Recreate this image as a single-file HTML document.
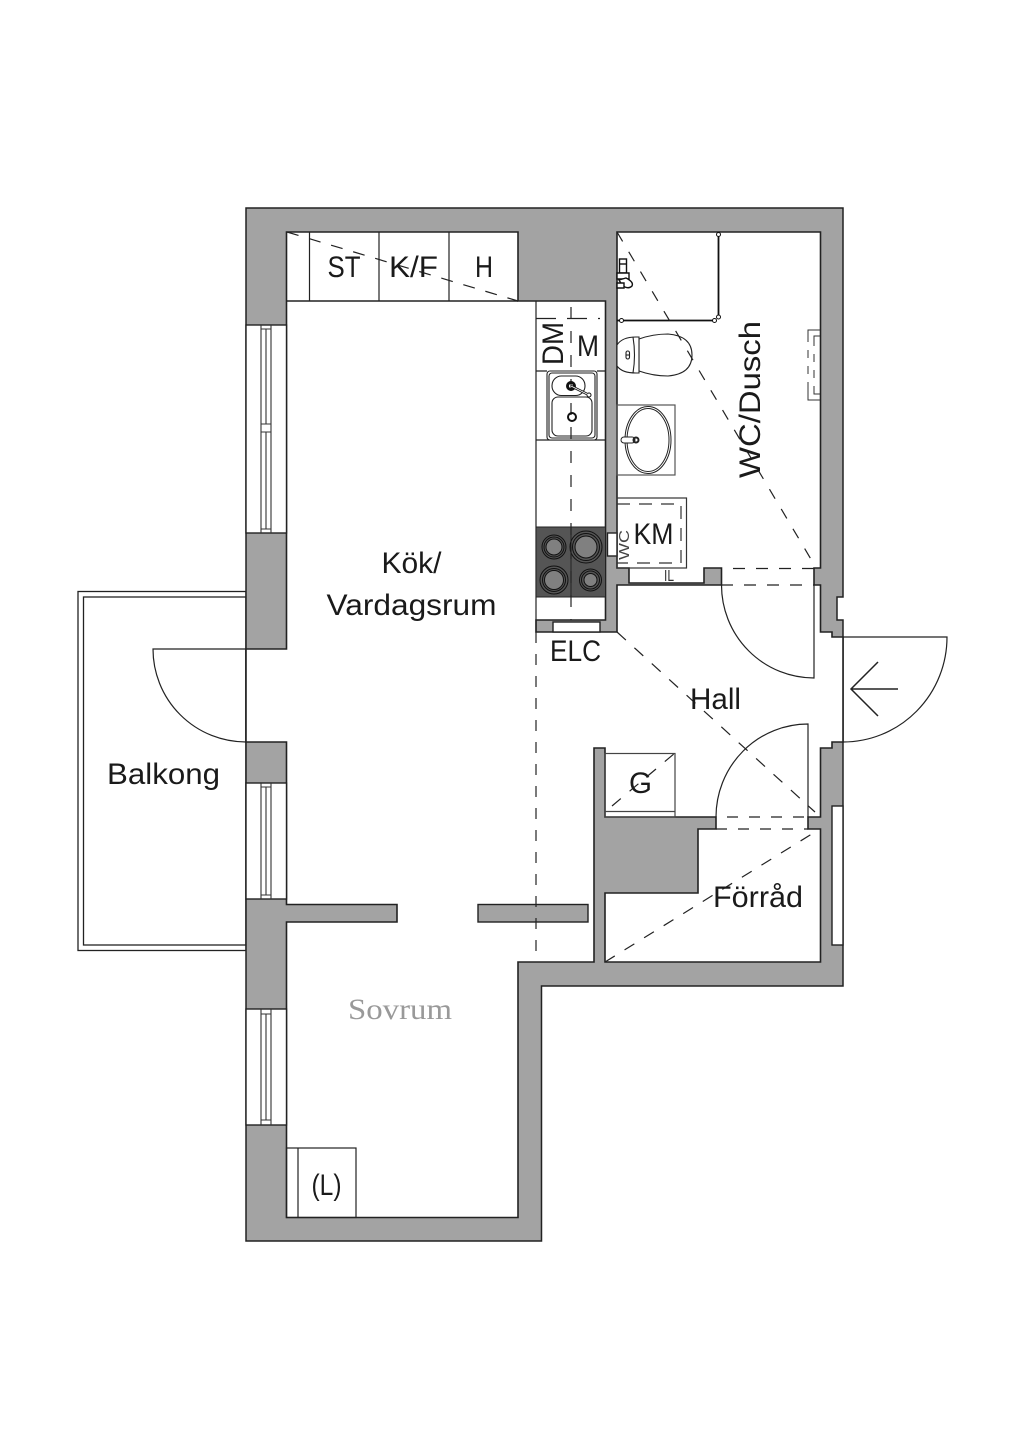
<!DOCTYPE html>
<html><head><meta charset="utf-8"><style>
html,body{margin:0;padding:0;background:#fff}
svg{display:block}
text{font-family:"Liberation Sans",sans-serif;fill:#1a1a1a;stroke:none}
</style></head><body>
<svg xmlns="http://www.w3.org/2000/svg" width="1024" height="1448" viewBox="0 0 1024 1448">
<rect width="1024" height="1448" fill="#fff"/>
<g fill="none" stroke="#222" stroke-width="1.3">
<rect x="78" y="591.5" width="168" height="359"/>
<rect x="83.5" y="597" width="162.5" height="348"/>
</g>
<path d="M246,208H843V597H837V620H843V986H541.5V1241H246Z" fill="#a3a3a3" stroke="#222" stroke-width="1.5"/>
<path d="M286.5,232H518V301H605.5V620H536V632H617V585H721.5V568H704V583H629V568H617V232H820.5V568H814V585H820.5V632H832V637H843V742H832V748H820.5V817H808V829H820.5V962H605V893H698V829H716V817H605V748H594V962H518V1217.5H286.5V922H397V904.5H286.5V742H246V649H286.5Z" fill="#fff" stroke="#222" stroke-width="1.6" stroke-linejoin="miter"/>
<rect x="478" y="904.5" width="110" height="17.5" fill="#a3a3a3" stroke="#222" stroke-width="1.4"/>
<!-- windows -->
<g fill="#fff" stroke="#222" stroke-width="1.4">
<rect x="246" y="325" width="40.5" height="208"/>
<rect x="246" y="783" width="40.5" height="116"/>
<rect x="246" y="1009" width="40.5" height="116"/>
<rect x="832" y="806" width="11" height="139"/>
<rect x="553" y="622" width="47" height="10"/>
<rect x="607.5" y="533" width="9.5" height="23"/>
</g>
<g fill="none" stroke="#333" stroke-width="1.1">
<path d="M261,325V533M271,325V533M266,329V424M266,432V529M261,329H271M261,424H271M261,432H271M261,529H271"/>
<path d="M261,783V899M271,783V899M266,787V895M261,787H271M261,895H271"/>
<path d="M261,1009V1125M271,1009V1125M266,1014V1120M261,1014H271M261,1120H271"/>
</g>
<!-- closets -->
<g fill="none" stroke="#222" stroke-width="1.2">
<path d="M286.5,301H518" stroke-width="1.5"/>
<path d="M309.5,232V301M379,232V301M449,232V301"/>
<path d="M536,301V632M536,371H547M597,371H605M536,440H605"/>
<rect x="286.5" y="1148" width="69.5" height="69.5"/>
<path d="M298,1148V1217"/>
<rect x="605" y="753.5" width="70" height="63.5" stroke="#444"/>
<path d="M605,811.5H675" stroke="#444"/>
<rect x="617" y="498" width="69.5" height="70" stroke="#333"/>
<rect x="617" y="405" width="58" height="70" stroke="#555"/>
</g>
<!-- cooktop -->
<rect x="536" y="527" width="69.5" height="70" fill="#555" stroke="#222"/>
<path d="M571,527V597" stroke="#222" stroke-width="1"/>
<g stroke="#111" stroke-width="1" fill="none">
<circle cx="554" cy="547" r="12"/><circle cx="554" cy="547" r="10"/><circle cx="554" cy="547" r="8" fill="#808080"/>
<circle cx="586" cy="547" r="16"/><circle cx="586" cy="547" r="13.5"/><circle cx="586" cy="547" r="11" fill="#808080"/>
<circle cx="554" cy="580" r="14"/><circle cx="554" cy="580" r="11.5"/><circle cx="554" cy="580" r="9.5" fill="#808080"/>
<circle cx="590.5" cy="580" r="11"/><circle cx="590.5" cy="580" r="9"/><circle cx="590.5" cy="580" r="6.5" fill="#808080"/>
</g>
<!-- kitchen sink -->
<g fill="#fff" stroke="#222" stroke-width="1.1">
<rect x="547" y="371" width="50" height="69" rx="3"/>
<rect x="549" y="373" width="46" height="65" rx="3"/>
<rect x="552" y="376" width="33" height="19.5" rx="9.5"/>
<rect x="552" y="397" width="40" height="39" rx="6"/>
</g>
<!-- radiator -->
<g fill="none" stroke="#333" stroke-width="1">
<path d="M820,330H808V342M808,350V358M808,366V374M808,382V400H820"/>
<path d="M820,336H814V346M814,354V362M814,370V378M814,386V394H820"/>
</g>
<!-- shower -->
<g fill="none" stroke="#111" stroke-width="1.8">
<path d="M718.5,232V318M617,320.5H716"/>
<circle cx="718.5" cy="234.5" r="2" fill="#fff" stroke-width="1"/>
<circle cx="718.5" cy="317" r="2" fill="#fff" stroke-width="1"/>
<circle cx="714.5" cy="320.5" r="2" fill="#fff" stroke-width="1"/>
<circle cx="621.5" cy="320.5" r="2" fill="#fff" stroke-width="1"/>
</g>
<!-- shower tap -->
<g fill="#fff" stroke="#111" stroke-width="1.4">
<rect x="619.5" y="259" width="7" height="14"/>
<path d="M619,264H627" fill="none"/>
<path d="M617,273H629V279H617Z"/>
<path d="M619,280L626,278Q634,282 632,286Q628,290 622,285Z"/>
<path d="M617,283H624V288H617Z"/>
</g>
<!-- toilet -->
<g fill="#fff" stroke="#222" stroke-width="1.1">
<path d="M639,339Q653,334 668,334Q692,336 692,355Q692,374 668,376Q653,376 639,371Z"/>
<path d="M617,345Q622,337 636,337L639,337V373H636Q622,373 617,366Z"/>
<path d="M633,337Q636,355 633,373" fill="none"/>
<rect x="626" y="351" width="3.5" height="8" rx="1.7"/>
<path d="M626,355H629.5" fill="none"/>
</g>
<!-- basin -->
<g fill="none" stroke="#222" stroke-width="1">
<ellipse cx="648" cy="440" rx="23" ry="33.5"/>
<ellipse cx="648" cy="440" rx="21" ry="31.5"/>
<rect x="621" y="437" width="14" height="6" rx="3" fill="#fff"/>
<circle cx="636" cy="440" r="2.5" stroke-width="2"/>
</g>
<!-- dashed -->
<g fill="none" stroke="#222" stroke-width="1.2">
<path d="M287,232L518,301" stroke-dasharray="12 11"/>
<path d="M571,307V620" stroke-dasharray="12 12"/>
<path d="M536,318.5H600" stroke-dasharray="20 11"/>
<path d="M617,232L815,566" stroke-dasharray="11 12"/>
<path d="M617,632L815,812" stroke-dasharray="12 11.5"/>
<path d="M612,806L675,753" stroke-dasharray="11.5 11.5"/>
<path d="M605,962L815,832" stroke-dasharray="11.5 11.5"/>
<path d="M536,632V962" stroke-dasharray="11 11"/>
<path d="M733,568.5H814" stroke-dasharray="12 11"/>
<path d="M721,585H814" stroke-dasharray="12 11"/>
<path d="M727,817H808" stroke-dasharray="11 11"/>
<path d="M716,829H808" stroke-dasharray="11 11"/>
<path d="M617,504H681V563H617" stroke-dasharray="13 9" stroke="#333"/>
</g>
<!-- sink faucet -->
<g fill="none" stroke="#111">
<circle cx="571" cy="386" r="3.5" stroke-width="3"/>
<path d="M571,386L589,395" stroke-width="2.5"/>
<circle cx="589" cy="395" r="2" fill="#fff" stroke-width="1"/>
<path d="M571,386L589,395" stroke="#fff" stroke-width=".8"/>
<circle cx="572" cy="417" r="4" stroke-width="2"/>
</g>
<!-- doors -->
<g fill="none" stroke="#222" stroke-width="1.2">
<path d="M246,649H153A93,93 0 0 0 246,742"/>
<path d="M721.5,585A92.5,93 0 0 0 814,678V585"/>
<path d="M716,817A92,93 0 0 1 808,724V817"/>
<path d="M843,637H947A104,105 0 0 1 843,742"/>
<path d="M898,689H851M878,662L851,689L878,716" stroke-width="1.5"/>
</g>
<!-- labels -->
<g font-size="30">
<text x="327.5" y="277" textLength="33" lengthAdjust="spacingAndGlyphs">ST</text>
<text x="389" y="277" textLength="49" lengthAdjust="spacingAndGlyphs">K/F</text>
<text x="475" y="277" textLength="18" lengthAdjust="spacingAndGlyphs">H</text>
<text x="577" y="356" textLength="22" lengthAdjust="spacingAndGlyphs">M</text>
<text transform="translate(563,365) rotate(-90)" textLength="43" lengthAdjust="spacingAndGlyphs">DM</text>
<text transform="translate(760,478) rotate(-90)" textLength="157" lengthAdjust="spacingAndGlyphs">WC/Dusch</text>
<text x="633.5" y="544" textLength="40" lengthAdjust="spacingAndGlyphs">KM</text>
<text x="550" y="661" textLength="51" lengthAdjust="spacingAndGlyphs">ELC</text>
<text x="690" y="709" textLength="51" lengthAdjust="spacingAndGlyphs">Hall</text>
<text x="629" y="793" textLength="23" lengthAdjust="spacingAndGlyphs">G</text>
<text x="713" y="907" textLength="90" lengthAdjust="spacingAndGlyphs">Förråd</text>
<text x="381.5" y="573" textLength="60" lengthAdjust="spacingAndGlyphs">Kök/</text>
<text x="326.5" y="615" textLength="170" lengthAdjust="spacingAndGlyphs">Vardagsrum</text>
<text x="107" y="784" textLength="113" lengthAdjust="spacingAndGlyphs">Balkong</text>
<text x="311.5" y="1195" textLength="30" lengthAdjust="spacingAndGlyphs">(L)</text>
</g>
<text transform="translate(629,560) rotate(-90)" font-size="15" textLength="30" lengthAdjust="spacingAndGlyphs" style="fill:#444">WC</text>
<text x="664" y="581" font-size="16" textLength="10" lengthAdjust="spacingAndGlyphs" style="fill:#333">IL</text>
<text x="348" y="1019" font-size="30" textLength="104" lengthAdjust="spacingAndGlyphs" style="font-family:'Liberation Serif',serif;fill:#999">Sovrum</text>
</svg>
</body></html>
